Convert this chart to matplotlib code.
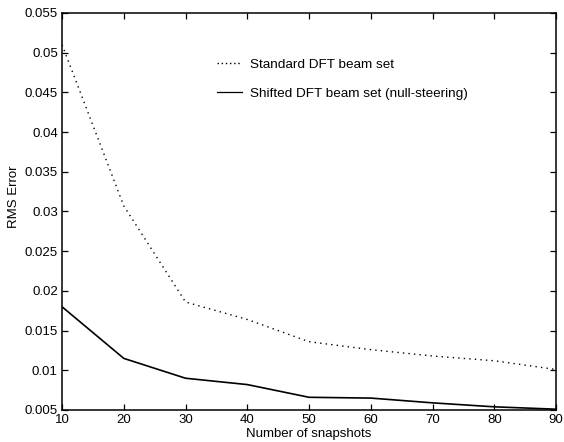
import matplotlib
matplotlib.use("Agg")
import matplotlib.pyplot as plt
from matplotlib.lines import Line2D

plt.rcParams['font.family'] = ['Liberation Sans', 'DejaVu Sans']

snapshots = [10, 20, 30, 40, 50, 60, 70, 80, 90]
standard_dft = [0.0510, 0.0307, 0.0186, 0.0164, 0.0136, 0.0126, 0.0118, 0.0112, 0.0101]
shifted_dft = [0.0180, 0.0115, 0.0090, 0.0082, 0.0066, 0.0065, 0.0059, 0.0054, 0.0051]

xticks = [10, 20, 30, 40, 50, 60, 70, 80, 90]
yticks = [0.005, 0.01, 0.015, 0.02, 0.025, 0.03, 0.035, 0.04, 0.045, 0.05, 0.055]
ytick_labels = ['0.005', '0.01', '0.015', '0.02', '0.025', '0.03', '0.035', '0.04', '0.045', '0.05', '0.055']

fig = plt.figure(figsize=(5.64, 4.42), dpi=100)
ax = fig.add_axes([0.110, 0.0724, 0.876, 0.8982])

ax.plot(snapshots, standard_dft, color='black', lw=1.0, linestyle=(0, (1, 3)))
ax.plot(snapshots, shifted_dft, color='black', lw=1.2, linestyle='-')

ax.set_xlim(10, 90)
ax.set_ylim(0.005, 0.055)
ax.set_xticks(xticks)
ax.set_xticklabels([str(t) for t in xticks])
ax.set_yticks(yticks)
ax.set_yticklabels(ytick_labels)
ax.tick_params(direction='in', length=4, width=0.9, top=True, right=True,
               labelsize=9.5, pad=3)
for s in ax.spines.values():
    s.set_linewidth(1.1)

ax.set_xlabel('Number of snapshots', fontsize=9.5, labelpad=1)
ax.set_ylabel('RMS Error', fontsize=9.5)
ax.yaxis.set_label_coords(-0.086, 0.537)

handles = [Line2D([], [], color='black', lw=1.0, linestyle=(0, (1, 2))),
           Line2D([], [], color='black', lw=0.9, linestyle='-')]
labels = ['Standard DFT beam set', 'Shifted DFT beam set (null-steering)']
ax.legend(handles, labels, loc='upper left', bbox_to_anchor=(0.303, 0.9),
          frameon=False, fontsize=9.7, handlelength=1.85, handletextpad=0.6,
          labelspacing=1.25, borderaxespad=0)

fig.savefig('out.png', dpi=100)
